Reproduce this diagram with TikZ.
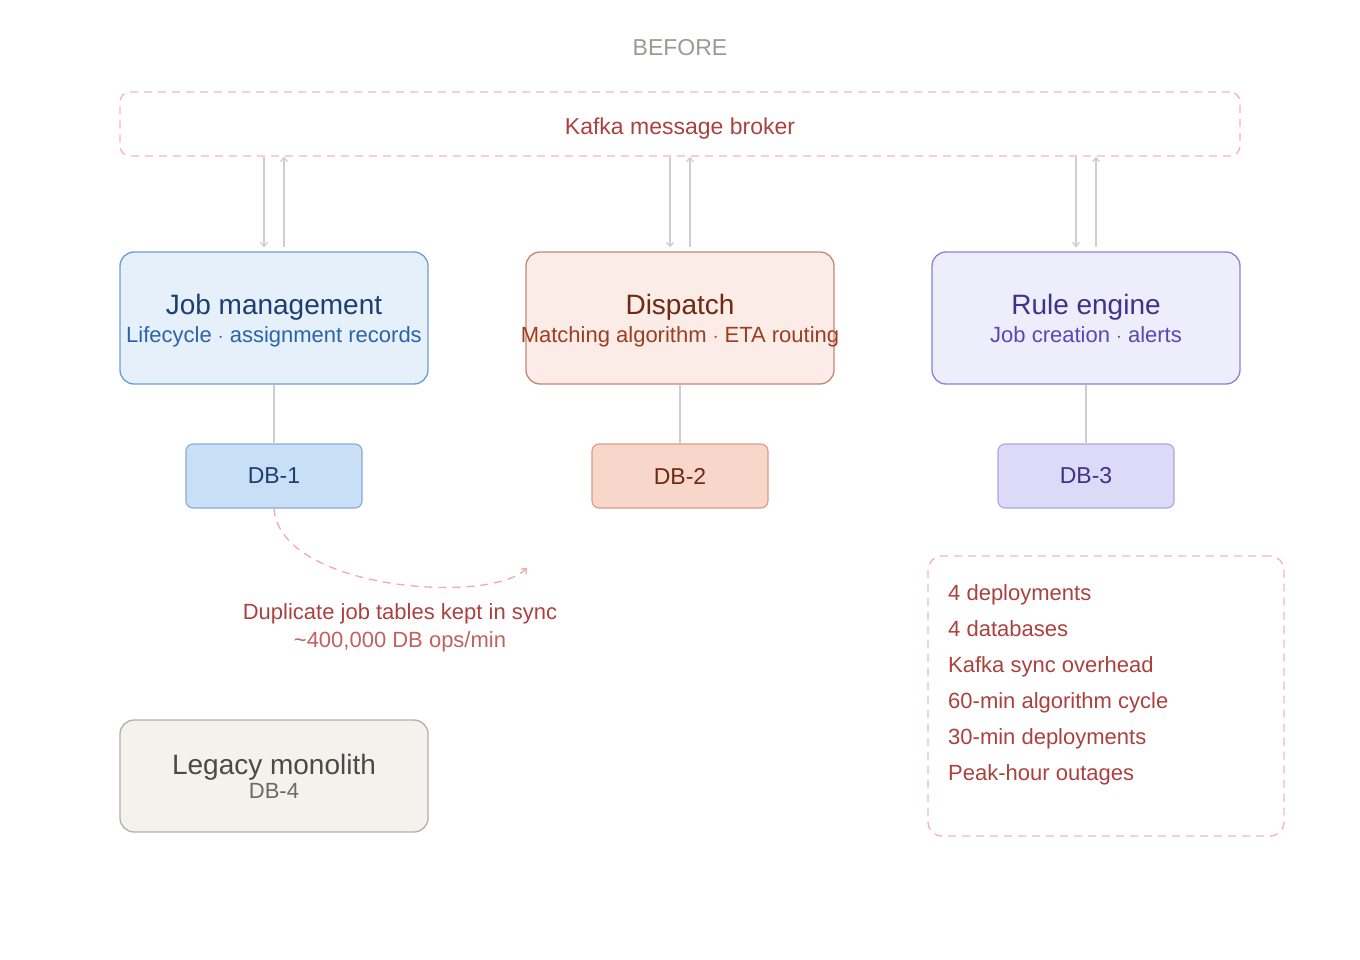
\documentclass[tikz,border=0pt]{standalone}
\usepackage{fontspec}
\setmainfont{Liberation Sans}
\usetikzlibrary{arrows.meta, positioning, calc}
\definecolor{Ink}{HTML}{999995}
\definecolor{Wire}{HTML}{CFCFCF}
\definecolor{Alarm}{HTML}{AB413E}
\definecolor{AlarmSoft}{HTML}{C2615D}
\definecolor{AlarmLine}{HTML}{F5B7B5}
\definecolor{JobFill}{HTML}{E6F0FB}
\definecolor{JobLine}{HTML}{6D9CD2}
\definecolor{JobText}{HTML}{1D3F70}
\definecolor{JobSub}{HTML}{2B63A8}
\definecolor{JobDB}{HTML}{C9DFF6}
\definecolor{JobDBLine}{HTML}{88ABDA}
\definecolor{DspFill}{HTML}{FBECE7}
\definecolor{DspLine}{HTML}{C4866F}
\definecolor{DspText}{HTML}{6E2A14}
\definecolor{DspSub}{HTML}{9D3E1F}
\definecolor{DspDB}{HTML}{F8D6CA}
\definecolor{DspDBLine}{HTML}{DA9B86}
\definecolor{RulFill}{HTML}{EEEDFC}
\definecolor{RulLine}{HTML}{8A80D8}
\definecolor{RulText}{HTML}{3B3488}
\definecolor{RulSub}{HTML}{5548B8}
\definecolor{RulDB}{HTML}{DDDAF7}
\definecolor{RulDBLine}{HTML}{ABA3E6}
\definecolor{OldFill}{HTML}{F3F2ED}
\definecolor{OldLine}{HTML}{B0AFA9}
\definecolor{OldText}{HTML}{4A4A47}
\definecolor{OldSub}{HTML}{6B6A66}

\begin{document}
\begin{tikzpicture}[
            x=1pt, y=-1pt,
            service/.style={
                rectangle,
                rounded corners=14pt,
                line width=1.3pt,
                minimum width=308pt,
                minimum height=132pt,
                inner sep=0pt,
                text depth=0pt,
                align=center
            },
            dbbox/.style={
                rectangle,
                rounded corners=7pt,
                line width=1.1pt,
                minimum width=176pt,
                minimum height=64pt,
                inner sep=0pt,
                font=\fontsize{23}{26}\selectfont
            },
            dashbox/.style={
                rectangle,
                draw=AlarmLine,
                line width=1.4pt,
                dash pattern=on 8pt off 6pt,
                inner sep=0pt
            },
            flow/.style={-{Straight Barb[length=4pt, width=7pt]}, line width=1.3pt, color=Wire},
            link/.style={line width=1.3pt, color=Wire},
            dup/.style={-{Straight Barb[length=4pt, width=7pt]}, line width=1.3pt, color=AlarmLine!90!Alarm, dash pattern=on 8pt off 6pt},
            note/.style={font=\fontsize{22}{28}\selectfont, color=Alarm}
        ]
            \useasboundingbox (0,0) rectangle (1360,960);

            \node[font=\fontsize{23}{26}\selectfont, text=Ink] (title) at (680,48) {BEFORE};

            % Broker across the top
            \node[dashbox, rounded corners=10pt, minimum width=1120pt, minimum height=64pt,
                  text height=24pt, text depth=2pt,
                  font=\fontsize{23}{26}\selectfont, text=Alarm] (kafka) at (680,124) {Kafka message broker};

            % Services
            \node[service, draw=JobLine, fill=JobFill] (jobs) at (274,318)
                {\textcolor{JobText}{\fontsize{28}{30}\selectfont Job management}\\[5pt]
                 \textcolor{JobSub}{\fontsize{22}{26}\selectfont Lifecycle $\cdot$ assignment records}};
            \node[service, draw=DspLine, fill=DspFill] (dispatch) at (680,318)
                {\textcolor{DspText}{\fontsize{28}{30}\selectfont Dispatch}\\[5pt]
                 \makebox[0pt]{\textcolor{DspSub}{\fontsize{22}{26}\selectfont Matching algorithm $\cdot$ ETA routing}}};
            \node[service, draw=RulLine, fill=RulFill] (rules) at (1086,318)
                {\textcolor{RulText}{\fontsize{28}{30}\selectfont Rule engine}\\[5pt]
                 \textcolor{RulSub}{\fontsize{22}{26}\selectfont Job creation $\cdot$ alerts}};

            % Databases
            \node[dbbox, draw=JobDBLine, fill=JobDB, text=JobText] (db1) at (274,476) {DB-1};
            \node[dbbox, draw=DspDBLine, fill=DspDB, text=DspText] (db2) at (680,476) {DB-2};
            \node[dbbox, draw=RulDBLine, fill=RulDB, text=RulText] (db3) at (1086,476) {DB-3};

            \node[service, minimum height=112pt, draw=OldLine, fill=OldFill] (legacy) at (274,776)
                {\textcolor{OldText}{\fontsize{28}{30}\selectfont Legacy monolith}\\[2pt]
                 \textcolor{OldSub}{\fontsize{22}{26}\selectfont DB-4}};

            % Broker traffic
            \foreach \svc in {jobs, dispatch, rules} {
                \draw[flow] ([xshift=-10pt]\svc.north |- kafka.south) -- ([xshift=-10pt, yshift=4pt]\svc.north);
                \draw[flow] ([xshift=10pt, yshift=4pt]\svc.north) -- ([xshift=10pt]\svc.north |- kafka.south);
            }

            % Service to own DB
            \draw[link] (jobs) -- (db1);
            \draw[link] (dispatch) -- (db2);
            \draw[link] (rules) -- (db3);

            % Duplicated tables
            \coordinate (synctip) at (527,568);
            \draw[dup] (db1.south) .. controls (280,590) and (490,605) .. (synctip);
            \node[note, align=center] (sync) at (400,628)
                {Duplicate job tables kept in sync\\
                 \textcolor{AlarmSoft}{\textasciitilde400,000 DB ops/min}};

            % Pain points
            \node[dashbox, rounded corners=14pt, minimum width=356pt, minimum height=280pt] (pain) at (1106,696) {};
            \node[note, align=left, anchor=north west, inner sep=0pt, font=\fontsize{22}{36}\selectfont] (painlist) at (948,584)
                {4 deployments\\
                 4 databases\\
                 Kafka sync overhead\\
                 60-min algorithm cycle\\
                 30-min deployments\\
                 Peak-hour outages};
        \end{tikzpicture}
\end{document}
